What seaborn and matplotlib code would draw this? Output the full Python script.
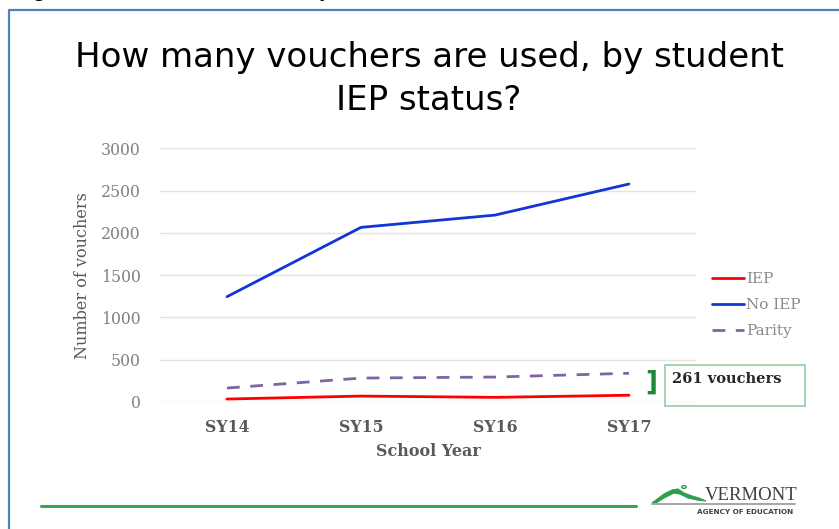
import numpy as np
import pandas as pd
import matplotlib
matplotlib.use("Agg")
import matplotlib.pyplot as plt
import seaborn as sns
from matplotlib.lines import Line2D
from matplotlib.patches import Rectangle, Polygon, Circle

# ---- data ----
years = ["SY14", "SY15", "SY16", "SY17"]
iep = [35, 70, 55, 80]
no_iep = [1245, 2065, 2210, 2578]
parity = [165, 283, 295, 340]
series_names = ["IEP", "No IEP", "Parity"]
y_ticks = [0, 500, 1000, 1500, 2000, 2500, 3000]
gap_label = "261 vouchers"

df = pd.DataFrame({
    "School Year": years * 3,
    "Vouchers": iep + no_iep + parity,
    "Series": [series_names[0]] * 4 + [series_names[1]] * 4 + [series_names[2]] * 4,
})

sns.set_theme(style="white")
SERIF = ["DejaVu Serif"]
TIMES = ["Liberation Serif", "DejaVu Serif"]
SANS = ["DejaVu Sans"]
plt.rcParams["font.family"] = SERIF

W, H = 839, 529
fig = plt.figure(figsize=(W / 100, H / 100), dpi=100)
fig.patch.set_facecolor("white")

def fx(px):
    return px / W

def fy(py):
    return 1 - py / H

ax = fig.add_axes([fx(160), fy(402), fx(696) - fx(160), fy(148.3) - fy(402)])

palette = {"IEP": "#ff0000", "No IEP": "#1236d6", "Parity": "#8064a2"}
dashes = {"IEP": "", "No IEP": "", "Parity": (4.6, 3.8)}
sns.lineplot(data=df, x="School Year", y="Vouchers", hue="Series", style="Series",
             palette=palette, dashes=dashes, linewidth=2.0, ax=ax, legend=False,
             sort=False)

ax.set_xlim(-0.5, 3.5)
ax.set_ylim(0, 3000)
ax.set_yticks(y_ticks)
ax.set_yticklabels([str(v) for v in y_ticks], color="#808080", fontsize=11.3)
ax.set_xticks(range(len(years)))
ax.set_xticklabels(years, color="#595959", fontsize=11.3, fontweight="bold")
ax.tick_params(axis="both", length=0)
ax.tick_params(axis="y", pad=14)
ax.tick_params(axis="x", pad=12)
ax.grid(axis="y", color="#e3e3e3", linewidth=1.0)
ax.grid(axis="x", visible=False)
for s in ax.spines.values():
    s.set_visible(False)
ax.set_xlabel("School Year", color="#595959", fontsize=11.5, fontweight="bold", labelpad=5)
ax.set_ylabel("Number of vouchers", color="#595959", fontsize=11.5, labelpad=7)

# legend
handles = [Line2D([], [], color=palette[n], lw=2.0,
                  linestyle=(0, dashes[n]) if dashes[n] else "-") for n in series_names]
leg = fig.legend(handles, series_names, loc="upper left",
                 bbox_to_anchor=(fx(706), fy(266)), frameon=False,
                 fontsize=11, handlelength=2.1, handletextpad=0.1,
                 labelspacing=0.78, borderaxespad=0)
for t in leg.get_texts():
    t.set_color("#8a8a8a")

# gap annotation
fig.text(fx(645), fy(383), "]", color="#1a8a3a", fontsize=19, fontweight="bold",
         ha="left", va="center", family=SANS)
fig.patches.append(Rectangle((fx(665), fy(406)), fx(805) - fx(665), fy(365) - fy(406),
                             transform=fig.transFigure, fill=False,
                             edgecolor="#8fd0a4", linewidth=1.2))
fig.text(fx(672), fy(379), gap_label, color="#262626", fontsize=10.5,
         fontweight="bold", ha="left", va="center")

# title
fig.text(fx(429), fy(58), "How many vouchers are used, by student", ha="center",
         va="center", fontsize=24.5, color="black", family=SANS)
fig.text(fx(429), fy(100), "IEP status?", ha="center", va="center",
         fontsize=24.5, color="black", family=SANS)

# slide frame
fig.lines.append(Line2D([fx(9), fx(9), fx(845)], [fy(540), fy(10), fy(10)],
                        transform=fig.transFigure, color="#4f81bd", linewidth=1.6))
# cut-off text above frame
fig.text(fx(33), fy(-3), "g", fontsize=15, color="black", family=SANS, va="baseline")
fig.text(fx(318), fy(-3), "y", fontsize=15, color="black", family=SANS, va="baseline")

# footer line
fig.lines.append(Line2D([fx(41), fx(636)], [fy(506), fy(506)],
                        transform=fig.transFigure, color="#3aa655", linewidth=2.2))
# logo
mountain = Polygon([(fx(652), fy(503)), (fx(664), fy(494)), (fx(672), fy(490)),
                    (fx(678), fy(489)), (fx(684), fy(493)), (fx(692), fy(496)),
                    (fx(699), fy(498)), (fx(706), fy(501)), (fx(697), fy(500)),
                    (fx(688), fy(498)), (fx(680), fy(494)), (fx(674), fy(493)),
                    (fx(664), fy(498)), (fx(656), fy(503))],
                   closed=True, transform=fig.transFigure, facecolor="#2e9e4a",
                   edgecolor="#2e9e4a", linewidth=0.8)
fig.patches.append(mountain)
fig.patches.append(Circle((fx(684), fy(487)), 2.2 / W, transform=fig.transFigure,
                          fill=False, edgecolor="#2e9e4a", linewidth=1.0))
fig.text(fx(751), fy(495), "VERMONT", ha="center", va="center", fontsize=13.5,
         color="#404040", family=TIMES)
fig.lines.append(Line2D([fx(652), fx(795)], [fy(503.5), fy(503.5)],
                        transform=fig.transFigure, color="#a6a6a6", linewidth=1.4))
fig.text(fx(745), fy(512), "AGENCY OF EDUCATION", ha="center", va="center",
         fontsize=5.2, fontweight="bold", color="#404040", family=SANS)

fig.savefig("out.png", dpi=100, facecolor="white")
